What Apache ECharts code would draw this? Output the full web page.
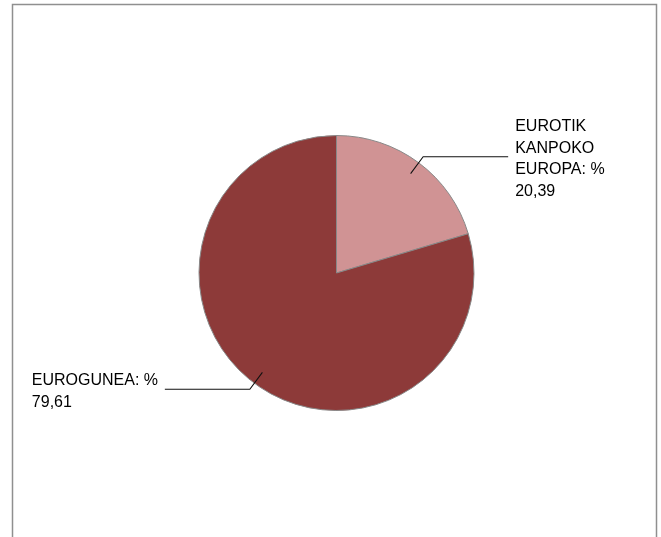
<!DOCTYPE html>
<html>
<head>
<meta charset="utf-8">
<script src="https://cdn.jsdelivr.net/npm/echarts@6/dist/echarts.min.js"></script>
<style>html,body{margin:0;padding:0;background:#fff}#c{width:661px;height:537px}</style>
</head>
<body>
<div id="c"></div>
<script>
const categories = ['EUROTIK KANPOKO EUROPA', 'EUROGUNEA'];
const values = [20.39, 79.61];
const labelLines = [['EUROTIK', 'KANPOKO', 'EUROPA: %', '20,39'], ['EUROGUNEA: %', '79,61']];
const colors = ['#D09394', '#8D3A39'];

const chart = echarts.init(document.getElementById('c'), null, {renderer: 'canvas'});
const baseData = categories.map((n, i) => ({name: n, value: values[i], itemStyle: {color: colors[i]}}));
const labelData = categories.map((n, i) => ({
  name: n, value: values[i],
  label: {formatter: labelLines[i].map(t => '{a|' + t + '}').join('\n')}
}));
chart.setOption({
  animation: false,
  graphic: [{
    type: 'polyline',
    shape: {points: [[12.5, 537], [12.5, 4.5], [656.5, 4.5], [656.5, 537]]},
    style: {stroke: '#8f8f8f', lineWidth: 1.5, fill: null},
    silent: true
  }],
  series: [{
    type: 'pie',
    z: 2,
    center: [336.5, 273],
    radius: [0, 137.5],
    startAngle: 90,
    clockwise: true,
    label: {show: false},
    labelLine: {show: false},
    itemStyle: {borderColor: '#888888', borderWidth: 1},
    emphasis: {disabled: true},
    data: baseData
  }, {
    type: 'pie',
    z: 5,
    center: [336.5, 273],
    radius: [0, 124],
    startAngle: 90,
    clockwise: true,
    silent: true,
    itemStyle: {color: 'rgba(0,0,0,0)', borderWidth: 0},
    emphasis: {disabled: true},
    label: {
      show: true,
      position: 'outside',
      distanceToLabelLine: 7,
      padding: [5, 0, 0, 0],
      color: '#000',
      fontFamily: 'Liberation Sans, Arial, sans-serif',
      fontSize: 16,
      lineHeight: 21,
      rich: {a: {fontFamily: 'Liberation Sans, Arial, sans-serif', fontSize: 16, lineHeight: 21.5, color: '#000', width: 126, align: 'left'}}
    },
    labelLine: {show: true, length: 21, length2: 85, lineStyle: {color: '#111', width: 1.1}},
    data: labelData
  }]
});
</script>
</body>
</html>
